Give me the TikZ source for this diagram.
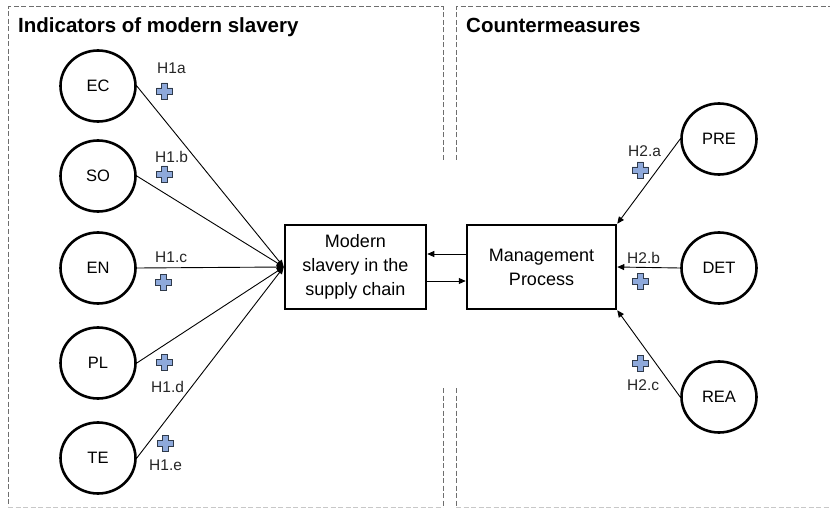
\documentclass[tikz,border=0pt]{standalone}
\usepackage{fontspec}
\setmainfont{Liberation Sans}
\usetikzlibrary{arrows.meta,shapes.geometric}
\definecolor{plusfill}{HTML}{8EA9DB}
\definecolor{plusdraw}{HTML}{2F3A4A}
\definecolor{dashgray}{HTML}{6E6E6E}
\definecolor{lightdash}{HTML}{C8C8C8}
\begin{document}
\begin{tikzpicture}[x=1pt,y=-1pt,
 var/.style={ellipse, draw, line width=2.6pt, minimum width=75pt, minimum height=71pt, inner sep=0pt, font=\fontsize{16.5}{18}\selectfont},
 box/.style={rectangle, draw, line width=2.5pt, minimum height=84pt, align=center, font=\fontsize{18}{24}\selectfont},
 frame/.style={dash pattern=on 5pt off 2.5pt, draw=dashgray, line width=1pt},
 bottomframe/.style={dash pattern=on 5pt off 2.5pt, draw=lightdash, line width=1pt},
 link/.style={line width=0.9pt, -{Triangle[length=7pt,width=6pt]}},
 hyp/.style={font=\fontsize{15.5}{17}\selectfont, anchor=base west, inner sep=0pt, text=black!85},
 title/.style={font=\bfseries\fontsize{20.5}{24}\selectfont, anchor=base west, inner sep=0pt},
 plussign/.pic={\draw[fill=plusfill, draw=plusdraw, line width=0.8pt] (-3,-8)--(3,-8)--(3,-3)--(8,-3)--(8,3)--(3,3)--(3,8)--(-3,8)--(-3,3)--(-8,3)--(-8,-3)--(-3,-3)--cycle;}
]
\useasboundingbox (0,0) rectangle (830,508);
\fill[white] (0,0) rectangle (830,508);

% frames
\draw[frame] (443,160) -- (443,7) -- (8,7) -- (8,507);
\draw[frame] (443,388) -- (443,507);
\draw[frame] (456,160) -- (456,7) -- (830,7);
\draw[frame] (456,388) -- (456,507);
\draw[bottomframe] (8,507) -- (443,507);
\draw[bottomframe] (456,507) -- (830,507);

% titles
\node[title] (t1) at (18,33) {Indicators of modern slavery};
\node[title] (t2) at (466,33) {Countermeasures};

% left variables
\node[var] (ec) at (98,86) {EC};
\node[var] (so) at (98,176) {SO};
\node[var] (en) at (98,268) {EN};
\node[var] (pl) at (98,363) {PL};
\node[var] (te) at (98,458) {TE};

% right variables
\node[var] (pre) at (719,139) {PRE};
\node[var] (det) at (719,268) {DET};
\node[var] (rea) at (719,397) {REA};

% boxes
\node[box, minimum width=141pt] (ms) at (355.5,267) {Modern\\slavery in the\\supply chain};
\node[box, minimum width=149pt] (mgmt) at (541.5,267) {Management\\Process};

% connectors
\draw[link] (ec.east) -- (ms.west);
\draw[link] (so.east) -- (ms.west);
\draw[link] (en.east) -- (ms.west);
\draw[link] (pl.east) -- (ms.west);
\draw[link] (te.east) -- (ms.west);
\draw[link] ([yshift=13pt]mgmt.west) -- ([yshift=13pt]ms.east);
\draw[link] ([yshift=-14pt]ms.east) -- ([yshift=-14pt]mgmt.west);
\draw[link] (pre.west) -- (mgmt.north east);
\draw[link] (det.west) -- (mgmt.east);
\draw[link] (rea.west) -- (mgmt.south east);

% hypothesis labels
\node[hyp] (h1a) at (157,74) {H1a};
\node[hyp] (h1b) at (155,162) {H1.b};
\node[hyp] (h1c) at (155,262) {H1.c};
\node[hyp] (h1d) at (151,392) {H1.d};
\node[hyp] (h1e) at (149,470) {H1.e};
\node[hyp] (h2a) at (628,157) {H2.a};
\node[hyp] (h2b) at (627,263) {H2.b};
\node[hyp] (h2c) at (627,390) {H2.c};

% plus signs
\pic at (164.5,91) {plussign};
\pic at (164.5,174) {plussign};
\pic at (163.5,282) {plussign};
\pic at (164,362) {plussign};
\pic at (165,443) {plussign};
\pic at (640,170) {plussign};
\pic at (640,281) {plussign};
\pic at (640,363) {plussign};
\end{tikzpicture}
\end{document}
